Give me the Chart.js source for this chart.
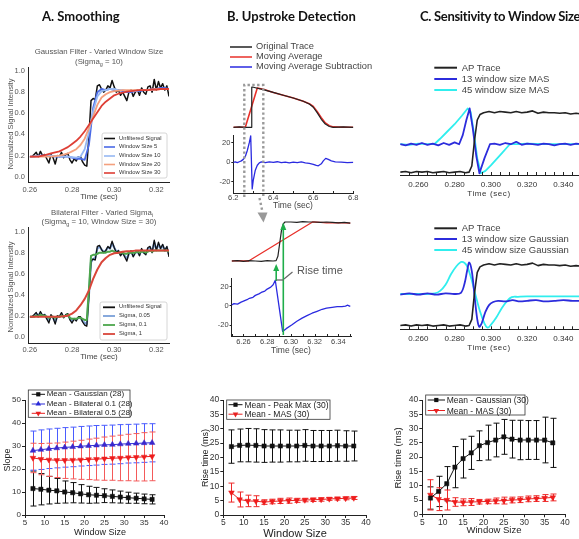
<!DOCTYPE html>
<html>
<head>
<meta charset="utf-8">
<script src="https://cdn.jsdelivr.net/npm/chart.js@4.4.1/dist/chart.umd.min.js"></script>
<style>
body { margin: 0; background: #fff; }
#fig { position: relative; width: 579px; height: 539px; overflow: hidden; background: #fff;
       font-family: 'Liberation Sans', Arial, sans-serif; color: #333; }
#fig canvas { position: absolute; }
#fig svg { position: absolute; left: 0; top: 0; }
.t { position: absolute; white-space: nowrap; line-height: 1; }
.h { position: absolute; font-family: Lato, 'Open Sans', sans-serif; font-weight: 700; font-size: 13px; color: #111; white-space: nowrap; }
.s { font-size: 70%; position: relative; top: 2px; }
</style>
</head>
<body>
<div id="fig"></div>
<script>
// ---- A. smoothing traces (time in sec, normalized intensity) ----
const tFine = [0.260,0.261,0.262,0.263,0.264,0.265,0.266,0.267,0.268,0.269,
  0.270,0.271,0.272,0.273,0.274,0.275,0.276,0.277,0.278,0.279,
  0.280,0.281,0.282,0.283,0.284,0.285,0.286,0.287,0.288,0.289,
  0.290,0.291,0.292,0.293,0.294,0.295,0.296,0.297,0.298,0.299,
  0.300,0.301,0.302,0.303,0.304,0.305,0.306,0.307,0.308,0.309,
  0.310,0.311,0.312,0.313,0.314,0.315,0.316,0.317,0.318,0.319,
  0.320,0.321,0.322,0.323,0.324,0.325,0.326];
const unfiltered = [0.19,0.19,0.21,0.23,0.19,0.24,0.20,0.21,0.17,0.13,
  0.21,0.18,0.12,0.20,0.19,0.23,0.18,0.21,0.22,0.16,
  0.13,0.17,0.15,0.19,0.19,0.14,0.11,0.10,0.38,0.72,
  0.74,0.73,0.86,0.87,0.83,0.80,0.82,0.86,0.84,0.91,
  0.85,0.80,0.82,0.77,0.80,0.76,0.72,0.80,0.82,0.76,
  0.80,0.82,0.77,0.84,0.80,0.78,0.85,0.86,0.80,0.92,
  0.82,0.90,0.84,0.88,0.82,0.86,0.76];
const sigma005 = [0.19,0.19,0.20,0.22,0.20,0.23,0.20,0.21,0.18,0.15,
  0.20,0.18,0.14,0.19,0.19,0.22,0.19,0.20,0.21,0.17,
  0.15,0.17,0.16,0.18,0.18,0.15,0.13,0.12,0.40,0.71,
  0.74,0.75,0.84,0.86,0.83,0.81,0.82,0.85,0.84,0.89,
  0.85,0.81,0.82,0.78,0.80,0.77,0.74,0.79,0.81,0.77,
  0.80,0.81,0.78,0.83,0.80,0.79,0.84,0.85,0.81,0.90,
  0.83,0.88,0.84,0.87,0.82,0.85,0.78];
const sigma01 = [0.19,0.19,0.19,0.20,0.19,0.21,0.20,0.20,0.19,0.18,
  0.19,0.19,0.18,0.19,0.19,0.20,0.19,0.20,0.21,0.18,
  0.17,0.17,0.17,0.18,0.18,0.17,0.16,0.16,0.45,0.77,
  0.78,0.78,0.79,0.80,0.80,0.80,0.80,0.81,0.81,0.82,
  0.81,0.80,0.80,0.80,0.80,0.79,0.79,0.80,0.80,0.80,
  0.80,0.81,0.80,0.81,0.81,0.80,0.81,0.82,0.81,0.82,
  0.82,0.82,0.82,0.82,0.82,0.82,0.81];
const tCoarse = [0.260,0.262,0.264,0.266,0.268,0.270,0.272,0.274,0.276,0.278,
  0.280,0.282,0.284,0.286,0.288,0.290,0.292,0.294,0.296,0.298,
  0.300,0.302,0.304,0.306,0.308,0.310,0.312,0.314,0.316,0.318,
  0.320,0.322,0.324,0.326];
const win5 = [0.19,0.19,0.20,0.20,0.20,0.20,0.19,0.19,0.19,0.19,
  0.18,0.17,0.17,0.16,0.30,0.65,0.80,0.83,0.82,0.83,
  0.82,0.82,0.81,0.80,0.80,0.81,0.81,0.82,0.82,0.83,
  0.83,0.84,0.84,0.83];
const win10 = [0.19,0.19,0.195,0.20,0.20,0.20,0.195,0.19,0.19,0.19,
  0.185,0.18,0.19,0.26,0.42,0.62,0.76,0.81,0.82,0.83,
  0.83,0.82,0.82,0.81,0.81,0.81,0.82,0.82,0.82,0.82,
  0.83,0.83,0.83,0.83];
const win20 = [0.19,0.19,0.19,0.19,0.19,0.19,0.195,0.20,0.21,0.22,
  0.24,0.26,0.30,0.36,0.46,0.57,0.68,0.75,0.78,0.80,
  0.81,0.815,0.82,0.82,0.82,0.82,0.82,0.82,0.82,0.825,
  0.825,0.83,0.83,0.83];
const win30 = [0.19,0.19,0.19,0.20,0.21,0.22,0.23,0.24,0.26,0.28,
  0.31,0.34,0.38,0.43,0.49,0.55,0.61,0.67,0.71,0.74,
  0.77,0.785,0.795,0.805,0.81,0.815,0.82,0.82,0.82,0.825,
  0.825,0.83,0.83,0.83];
const sigma1 = [0.19,0.19,0.19,0.19,0.19,0.19,0.19,0.19,0.195,0.20,
  0.22,0.25,0.30,0.36,0.44,0.55,0.64,0.71,0.75,0.78,
  0.795,0.80,0.81,0.815,0.815,0.82,0.82,0.82,0.82,0.82,
  0.82,0.82,0.82,0.82];
const aYTicks = [0.0,0.2,0.4,0.6,0.8,1.0];
const aXTicks = [0.26,0.28,0.30,0.32];

// ---- B. upstroke detection traces ----
const bOrigT = [6.200,6.230,6.260,6.290,6.2915,6.293,6.300,6.350,6.400,6.450,6.500,6.550,6.580,6.600,6.620,6.640,6.660,6.680,6.700,6.750,6.800];
const bOrigV = [0,0.01,0,0,0.6,1.0,1.0,0.94,0.87,0.80,0.73,0.65,0.58,0.50,0.36,0.20,0.08,0.02,0,0.01,0];
const bMovT = [6.200,6.260,6.320,6.350,6.400,6.450,6.500,6.550,6.580,6.600,6.620,6.640,6.660,6.680,6.700,6.750,6.800];
const bMovV = [0,0,0.98,0.95,0.87,0.80,0.73,0.65,0.59,0.52,0.39,0.24,0.11,0.04,0.01,0,0];
const bMasT = [6.200,6.210,6.220,6.230,6.240,6.250,6.260,6.270,6.280,6.287,
  6.2945,6.300,6.310,6.320,6.330,6.340,6.360,6.380,6.400,6.420,
  6.440,6.460,6.480,6.500,6.520,6.540,6.560,6.580,6.600,6.615,
  6.625,6.640,6.650,6.662,6.675,6.690,6.710,6.740,6.770,6.800];
const bMasV = [0,0.4,-0.3,0.6,1.5,3,6,12,20,27,
  -27,-18,-8,-3,-0.5,0.4,-0.3,0.5,0,0.6,
  -0.4,0.3,-0.5,0.2,-0.3,0.4,-0.6,-1,-2,-3.2,
  -3.5,-1.5,1.5,4,3,1.5,0.5,0.2,-0.2,0];
const bZoomOrigT = [6.250,6.255,6.260,6.265,6.270,6.275,6.280,6.285,6.2875,6.289,
  6.2905,6.292,6.2935,6.295,6.300,6.305,6.310,6.315,6.320,6.325,
  6.330,6.335,6.340,6.345,6.350];
const bZoomOrigV = [0,0.01,-0.01,0.01,0,-0.01,0.01,0,0.01,0.12,
  0.45,0.78,0.95,1.0,1.0,0.99,1.01,1.0,1.0,0.99,
  1.0,0.99,0.98,0.99,0.97];
const bZoomMovT = [6.250,6.255,6.260,6.2643,6.3182,6.325,6.330,6.340,6.350];
const bZoomMovV = [0,0.01,0,0,1.0,0.99,0.98,0.985,0.97];
const bZoomMasT = [6.250,6.252,6.255,6.258,6.260,6.263,6.265,6.268,6.270,6.273,
  6.275,6.278,6.280,6.283,6.285,6.2868,6.2930,6.2960,6.3009,6.3050,
  6.3094,6.3135,6.3178,6.3220,6.3263,6.3300,6.3347,6.3390,6.3430,6.3460,
  6.3475,6.3500];
const bZoomMasV = [1,2.5,2,4,5,6.5,8,9,11,12.5,
  14,15.5,17.5,19.5,22,26.7,-26.3,-23.5,-19.5,-15.8,
  -12.6,-10,-7.5,-5.5,-3.4,-2.2,-1.4,-0.6,-0.7,-0.2,
  0.8,-0.5];
const bXTicks = [6.2,6.4,6.6,6.8];
const bXMinor = [6.3,6.5,6.7];
const bZoomXTicks = [6.26,6.28,6.30,6.32,6.34];
const bZoomXMinor = [6.25,6.27,6.29,6.31,6.33,6.35];
const bYTicks = [-20,0,20];

// ---- C. sensitivity traces ----
const apT = [0.250,0.253,0.256,0.259,0.262,0.265,0.268,0.271,0.274,0.277,0.280,0.283,0.286,
  0.2880,0.2895,0.2910,0.2925,0.2940,0.2960,0.2990,
  0.302,0.305,0.308,0.311,0.314,0.317,0.320,0.323,0.326,0.329,0.332,0.335,0.338,0.341,0.344,0.347,0.350];
const apV = [0.02,0.03,0.01,0.03,0.02,0.03,0.01,0.02,0.03,0.01,0.02,0.03,0.01,
  0.02,0.12,0.55,0.88,0.97,1.00,1.02,
  1.00,1.02,1.01,1.00,1.02,1.00,1.01,1.03,0.99,1.01,1.00,1.00,0.99,1.00,0.98,0.99,0.98];
const mas13T = [0.250,0.253,0.256,0.259,0.262,0.265,0.268,0.271,0.274,0.277,0.280,
  0.2825,0.2845,0.2865,0.2883,0.2900,0.2920,0.2937,0.2965,0.2995,
  0.302,0.305,0.308,0.311,0.314,0.317,0.320,0.323,0.326,0.329,0.332,0.335,0.338,0.341,0.344,0.347,0.350];
const mas13V = [0.48,0.46,0.49,0.47,0.50,0.47,0.49,0.46,0.50,0.47,0.51,
  0.48,0.63,0.88,1.07,0.75,0.28,0.0,0.25,0.48,
  0.49,0.47,0.50,0.48,0.52,0.47,0.49,0.48,0.47,0.49,0.48,0.46,0.48,0.49,0.47,0.49,0.48];
const mas45T = [0.250,0.255,0.260,0.265,0.2688,0.2720,0.2760,0.2800,0.2840,0.2872,
  0.2888,0.2905,0.2925,0.2945,0.2970,0.3000,0.3030,0.3060,0.3090,0.3105,
  0.3150,0.3200,0.3300,0.3400,0.3500];
const mas45V = [0.48,0.47,0.49,0.48,0.48,0.57,0.69,0.81,0.95,1.07,
  1.02,0.70,0.25,0.0,0.04,0.13,0.23,0.33,0.43,0.48,
  0.48,0.49,0.48,0.48,0.48];
const gau13T = [0.250,0.255,0.260,0.265,0.270,0.275,0.280,0.2835,0.2855,0.2870,
  0.2881,0.2895,0.2910,0.2925,0.2936,0.2950,0.2970,0.2990,0.3013,0.3040,
  0.308,0.312,0.316,0.320,0.325,0.330,0.335,0.340,0.345,0.350];
const gau13V = [0.52,0.54,0.52,0.54,0.52,0.54,0.53,0.55,0.70,0.92,
  1.04,0.90,0.50,0.12,0.0,0.06,0.24,0.35,0.40,0.42,
  0.41,0.43,0.41,0.42,0.43,0.41,0.42,0.43,0.42,0.42];
const gau45T = [0.250,0.255,0.260,0.265,0.2692,0.2720,0.2750,0.2780,0.2810,0.2839,
  0.2865,0.2890,0.2915,0.2940,0.2965,0.2982,0.3000,0.3030,0.3060,0.3090,
  0.3115,0.3150,0.3200,0.3300,0.3400,0.3500];
const gau45V = [0.53,0.53,0.53,0.53,0.54,0.58,0.68,0.85,0.98,1.05,
  1.00,0.80,0.52,0.25,0.05,-0.015,0.03,0.15,0.30,0.42,
  0.48,0.485,0.49,0.49,0.49,0.49];
const cXTicks = [0.26,0.28,0.30,0.32,0.34];
const cXMinor = [0.255,0.260,0.265,0.270,0.275,0.280,0.285,0.290,0.295,0.300,
  0.305,0.310,0.315,0.320,0.325,0.330,0.335,0.340,0.345];

// ---- summary plots vs window size ----
const windowSizes = [7,9,11,13,15,17,19,21,23,25,27,29,31,33,35,37];
const slopeGauss = [11.5,11.2,10.8,10.5,10.0,9.7,9.2,8.8,8.6,8.4,8.1,7.8,7.5,7.3,7.0,6.8];
const slopeGaussErr = [7.6,6.8,6.0,5.4,4.8,4.4,4.0,3.7,3.4,3.0,2.8,2.6,2.4,2.2,2.1,2.0];
const slopeBil01 = [28.0,28.4,28.8,29.1,29.4,29.6,29.9,30.1,30.3,30.5,30.6,30.8,31.0,31.1,31.3,31.4];
const slopeBil01Err = [8.5,8.6,8.6,8.6,8.6,8.6,8.6,8.6,8.6,8.5,8.5,8.5,8.4,8.4,8.4,8.3];
const slopeBil05 = [24.8,24.3,24.0,23.8,23.8,23.9,24.0,24.2,24.3,24.5,24.7,24.8,25.0,25.1,25.3,25.5];
const slopeBil05Err = [6.4,6.8,7.2,7.5,7.9,8.2,8.5,8.8,9.1,9.4,9.6,9.9,10.1,10.3,10.5,10.6];
const risePeakMax = [23.8,24.2,24.3,24.2,24.0,24.0,24.0,24.0,24.0,24.2,24.0,24.0,24.0,24.1,24.0,24.0];
const risePeakMaxErr = [5.8,5.7,5.8,5.8,5.7,5.6,5.6,5.5,5.5,5.5,5.4,5.4,5.4,5.4,5.3,5.2];
const riseMasB = [7.8,5.4,4.9,4.8,4.5,4.7,4.9,5.0,5.1,5.2,5.3,5.4,5.6,5.7,5.8,5.9];
const riseMasBErr = [3.3,2.6,2.0,1.9,0.8,0.8,0.9,0.9,0.7,0.6,0.6,0.6,0.5,0.5,0.5,0.5];
const riseGaussC = [5.7,8.0,10.7,16.5,19.5,21.5,24.0,25.1,26.0,27.1,26.3,26.0,26.0,26.0,26.0,25.0];
const riseGaussCErr = [3.9,5.3,6.0,7.2,6.8,5.8,5.2,6.1,5.9,6.1,6.6,6.9,6.8,6.8,8.0,8.6];
const riseMasC = [6.8,5.3,5.0,4.3,4.2,4.3,4.4,4.5,4.7,4.8,5.0,5.1,5.4,5.5,5.7,5.9];
const riseMasCErr = [5.3,4.0,3.5,1.5,1.2,1.2,0.8,0.8,1.0,1.2,1.0,1.0,1.0,1.0,1.2,1.2];
const wsTicks = [5,10,15,20,25,30,35,40];
const slopeTicks = [0,10,20,30,40,50];
const riseTicks = [0,5,10,15,20,25,30,35,40];

Chart.defaults.font.family = "'Liberation Sans', Arial, sans-serif";

const fig = document.getElementById('fig');
const xy = (ts, vs) => ts.map((t, i) => ({ x: t, y: vs[i] }));

// error bars with caps, drawn under the markers
Chart.register({
  id: 'errorBars',
  beforeDatasetsDraw(chart) {
    const { ctx, scales: { x, y } } = chart;
    chart.data.datasets.forEach(ds => {
      if (!ds.errs) return;
      ctx.save();
      ctx.strokeStyle = ds.errColor;
      ctx.lineWidth = 1;
      ds.data.forEach((p, i) => {
        const px = Math.round(x.getPixelForValue(p.x)) + 0.5;
        const hi = y.getPixelForValue(p.y + ds.errs[i]);
        const lo = y.getPixelForValue(p.y - ds.errs[i]);
        ctx.beginPath();
        ctx.moveTo(px, hi); ctx.lineTo(px, lo);
        ctx.moveTo(px - 3, hi); ctx.lineTo(px + 3, hi);
        ctx.moveTo(px - 3, lo); ctx.lineTo(px + 3, lo);
        ctx.stroke();
      });
      ctx.restore();
    });
  }
});

// small tick marks pointing up into the plot
Chart.register({
  id: 'innerTicks',
  afterDraw(chart, args, opts) {
    if (!opts || !opts.values) return;
    const { ctx, chartArea, scales: { x } } = chart;
    ctx.save();
    ctx.strokeStyle = '#222';
    ctx.lineWidth = 1;
    opts.values.forEach(v => {
      const px = Math.round(x.getPixelForValue(v)) + 0.5;
      ctx.beginPath();
      ctx.moveTo(px, chartArea.bottom);
      ctx.lineTo(px, chartArea.bottom - opts.len);
      ctx.stroke();
    });
    ctx.restore();
  }
});

function axis(min, max, ticks, o = {}) {
  const list = ticks || [];
  return {
    type: 'linear', min, max,
    afterBuildTicks: s => { s.ticks = list.map(v => ({ value: v })); },
    ticks: {
      display: list.length > 0,
      autoSkip: false, maxRotation: 0, minRotation: 0,
      padding: o.pad ?? 2,
      color: o.color || '#333',
      font: { size: o.size || 8 },
      callback: v => o.fmt ? o.fmt(v) : String(v)
    },
    grid: { display: !!o.tick, drawOnChartArea: false, drawTicks: !!o.tick, tickLength: o.tick || 0, color: '#222' },
    border: { display: !!o.line, color: '#222', width: 1 }
  };
}

// area = [left, top, right, bottom] of the plot, in page pixels
function addChart(L, T, W, H, area, datasets, xs, ys, plugins) {
  const c = document.createElement('canvas');
  c.width = W; c.height = H;
  c.style.left = L + 'px'; c.style.top = T + 'px';
  c.style.width = W + 'px'; c.style.height = H + 'px';
  fig.appendChild(c);
  xs.afterFit = s => { s.height = T + H - area[3]; };
  ys.afterFit = s => { s.width = area[0] - L; };
  return new Chart(c, {
    type: 'line',
    data: { datasets },
    options: {
      responsive: false, animation: false, events: [],
      layout: { padding: { left: 0, top: area[1] - T, right: L + W - area[2], bottom: 0 } },
      plugins: Object.assign({ legend: { display: false }, tooltip: { enabled: false } }, plugins || {}),
      scales: { x: xs, y: ys }
    }
  });
}

function trace(ts, vs, color, width, extra) {
  return Object.assign({ data: xy(ts, vs), borderColor: color, borderWidth: width, pointRadius: 0,
    fill: false, tension: 0, borderJoinStyle: 'round' }, extra || {});
}

function meanSeries(vals, errs, color, fill, style, rot, errColor) {
  return { data: xy(windowSizes, vals), errs, errColor, borderColor: color, borderWidth: 1,
    pointStyle: style, pointRotation: rot, pointRadius: style === 'rect' ? 3 : 3.3,
    pointBackgroundColor: fill, pointBorderColor: fill, pointBorderWidth: 0.5, fill: false, tension: 0 };
}

const aFmtY = v => v.toFixed(1), aFmtX = v => v.toFixed(2);

// A1 - Gaussian filter
addChart(0, 55, 178, 140, [28, 67, 169, 182], [
  trace(tCoarse, win30, '#de3e35', 1.8),
  trace(tCoarse, win20, '#f4a07e', 1.8),
  trace(tCoarse, win10, '#97b8f3', 1.8),
  trace(tCoarse, win5, '#4a6ae6', 1.8),
  trace(tFine, unfiltered, '#111', 1.5)
], axis(0.2591, 0.326, aXTicks, { fmt: aFmtX, line: true, pad: 3, size: 7.5, color: '#555' }),
   axis(-0.05, 1.038, aYTicks, { fmt: aFmtY, line: true, pad: 3, size: 7.5, color: '#555' }));

// A2 - bilateral filter
addChart(0, 215, 178, 140, [28, 227, 169, 343], [
  trace(tCoarse, sigma1, '#d9463a', 2),
  trace(tFine, sigma01, '#4ca64c', 2),
  trace(tFine, unfiltered, '#111', 1.3),
  trace(tFine, sigma005, '#7aa0d8', 2.2)
], axis(0.2591, 0.326, aXTicks, { fmt: aFmtX, line: true, pad: 2, size: 7.5, color: '#555' }),
   axis(-0.06, 1.045, aYTicks, { fmt: aFmtY, line: true, pad: 3, size: 7.5, color: '#555' }));

// A3 - slope vs window size
addChart(0, 390, 175, 140, [25, 400, 164, 515], [
  meanSeries(slopeGauss, slopeGaussErr, '#111', '#111', 'rect', 0, '#111'),
  meanSeries(slopeBil01, slopeBil01Err, '#2a2ad8', '#3a28cc', 'triangle', 0, '#4a5cff'),
  meanSeries(slopeBil05, slopeBil05Err, '#e82020', '#ee1c1c', 'triangle', 180, '#f45a5a')
], axis(5, 40, wsTicks, { line: true, tick: 3, pad: 0, size: 8, color: '#333' }),
   axis(0, 50, slopeTicks, { line: true, tick: 3, pad: 1, size: 8, color: '#333' }));

// B1 - full trace
addChart(230, 75, 130, 60, [233.3, 80, 353.3, 130], [
  trace(bOrigT, bOrigV, '#222', 1.2),
  trace(bMovT, bMovV, '#e8302a', 1.6)
], axis(6.2, 6.8, null), axis(-0.0675, 1.18, null));

addChart(200, 128, 165, 75, [233.3, 135, 353.3, 193], [
  trace(bMasT, bMasV, '#2a2ae0', 1.3)
], axis(6.2, 6.8, bXTicks, { fmt: v => v.toFixed(1), line: true, pad: 0, size: 7.5, color: '#444' }),
   axis(-31.2, 27.8, bYTicks, { line: true, tick: 2, pad: 1, size: 7.5, color: '#444' }),
   { innerTicks: { values: bXTicks.concat(bXMinor), len: 2 } });

// B2 - zoomed upstroke
addChart(200, 210, 160, 60, [231.6, 215, 351.7, 266], [
  trace(bZoomOrigT, bZoomOrigV, '#222', 1.2),
  trace(bZoomMovT, bZoomMovV, '#e8302a', 1.3)
], axis(6.25, 6.3512, null), axis(-0.128, 1.18, null));

addChart(200, 270, 160, 76, [231.6, 278, 351.7, 336], [
  trace(bZoomMasT, bZoomMasV, '#2a2ae0', 1.3)
], axis(6.25, 6.3512, bZoomXTicks, { fmt: v => v.toFixed(2), line: true, pad: 1, size: 7.5, color: '#444' }),
   axis(-31.1, 29.0, bYTicks, { line: true, tick: 2, pad: 1, size: 7.5, color: '#444' }),
   { innerTicks: { values: bZoomXTicks.concat(bZoomXMinor), len: 2 } });

// B3 - rise time vs window size
addChart(195, 390, 180, 140, [223.3, 400, 366, 515], [
  meanSeries(risePeakMax, risePeakMaxErr, '#111', '#111', 'rect', 0, '#111'),
  meanSeries(riseMasB, riseMasBErr, '#e82020', '#ee1c1c', 'triangle', 180, '#ee2a2a')
], axis(5, 40, wsTicks, { line: true, tick: 3, pad: 0, size: 8.5, color: '#333' }),
   axis(0, 40, riseTicks, { line: true, tick: 3, pad: 1, size: 8.5, color: '#333' }));

// C1 - MAS window sizes
addChart(385, 90, 205, 100, [400.2, 100, 581.5, 175], [
  trace(apT, apV, '#222', 1.6),
  trace(mas13T, mas13V, '#2c2cdc', 1.8),
  trace(mas45T, mas45V, '#30eeee', 1.8)
], axis(0.25, 0.35, cXTicks, { fmt: v => v.toFixed(3), line: true, pad: 5, size: 8, color: '#333' }),
   axis(-0.028, 1.21, null),
   { innerTicks: { values: cXMinor, len: 3 } });

// C2 - Gaussian window sizes
addChart(385, 245, 205, 100, [400.2, 255, 581.5, 329.3], [
  trace(apT, apV, '#222', 1.6),
  trace(gau13T, gau13V, '#2c2cdc', 1.8, { tension: 0.35 }),
  trace(gau45T, gau45V, '#30eeee', 1.8, { tension: 0.35 })
], axis(0.25, 0.35, cXTicks, { fmt: v => v.toFixed(3), line: true, pad: 5, size: 8, color: '#333' }),
   axis(-0.042, 1.162, null),
   { innerTicks: { values: cXMinor, len: 3 } });

// C3 - rise time vs window size
addChart(395, 390, 180, 140, [422.3, 400, 565, 514.3], [
  meanSeries(riseGaussC, riseGaussCErr, '#111', '#111', 'rect', 0, '#111'),
  meanSeries(riseMasC, riseMasCErr, '#e82020', '#ee1c1c', 'triangle', 180, '#ee2a2a')
], axis(5, 40, wsTicks, { line: true, tick: 3, pad: 0, size: 8.5, color: '#333' }),
   axis(0, 40, riseTicks, { line: true, tick: 3, pad: 1, size: 8.5, color: '#333' }));

// ---- legends and annotations ----
let svg = '';
const line = (x1, y1, x2, y2, c, w, dash) =>
  `<line x1="${x1}" y1="${y1}" x2="${x2}" y2="${y2}" stroke="${c}" stroke-width="${w}"${dash ? ` stroke-dasharray="${dash}"` : ''}/>`;
const box = (x, y, w, h, stroke) =>
  `<rect x="${x}" y="${y}" width="${w}" height="${h}" fill="#fff" stroke="${stroke}" stroke-width="0.8" rx="${stroke === '#333' ? 0 : 2}"/>`;
function marker(style, cx, cy, c) {
  if (style === 'rect') return `<rect x="${cx - 2.1}" y="${cy - 2.1}" width="4.2" height="4.2" fill="${c}"/>`;
  const r = 3.2, dx = r * 0.87, s = style === 'up' ? 1 : -1;
  return `<polygon points="${cx},${cy - s * r} ${cx - dx},${cy + s * r / 2} ${cx + dx},${cy + s * r / 2}" fill="${c}"/>`;
}
const texts = [];
const lab = (x, y, s, size, color, o) => texts.push(Object.assign({ x, y, s, size, color }, o || {}));

// A1 legend
svg += box(102, 133, 65, 45, '#ccc');
[['Unfiltered Signal', '#111'], ['Window Size 5', '#4a6ae6'], ['Window Size 10', '#97b8f3'],
 ['Window Size 20', '#f4a07e'], ['Window Size 30', '#de3e35']].forEach((e, i) => {
  const y = [138.5, 147, 156, 164.5, 173][i];
  svg += line(104, y, 115, y, e[1], 1.6);
  lab(119, y, e[0], 5.8, '#333', { left: true });
});
// A2 legend
svg += box(100, 302, 67, 38, '#ccc');
[['Unfiltered Signal', '#111'], ['Sigma, 0.05', '#7aa0d8'], ['Sigma, 0.1', '#4ca64c'], ['Sigma, 1', '#d9463a']].forEach((e, i) => {
  const y = [307.3, 316, 325, 334][i];
  svg += line(103, y, 115, y, e[1], 1.8);
  lab(119, y, e[0], 5.8, '#333', { left: true });
});
// A3 legend
svg += box(28.3, 390, 101.7, 27.3, '#333');
[['Mean - Gaussian (28)', '#111', 'rect'], ['Mean - Bilateral 0.1 (28)', '#2a2ad8', 'up'],
 ['Mean - Bilateral 0.5 (28)', '#e82020', 'down']].forEach((e, i) => {
  const y = [394.3, 404, 413.3][i];
  svg += line(31.7, y, 45, y, e[1], 1) + marker(e[2], 38.3, y, e[1]);
  lab(46.7, y, e[0], 8, '#222', { left: true });
});
// B1 legend
[['Original Trace', '#222'], ['Moving Average', '#e8302a'], ['Moving Average Subtraction', '#2a2ae0']].forEach((e, i) => {
  const y = [47, 57, 67][i];
  svg += line(230, y, 252, y, e[1], 1.5);
  lab(256, y, e[0], 9.3, '#444', { left: true });
});
// B3 legend
svg += box(226.7, 400, 103.3, 19.3, '#333');
[['Mean - Peak Max (30)', '#111', 'rect'], ['Mean - MAS (30)', '#e82020', 'down']].forEach((e, i) => {
  const y = [404.7, 414.2][i];
  svg += line(228.5, y, 242.5, y, e[1], 1) + marker(e[2], 235.5, y, e[1]);
  lab(244.5, y, e[0], 8.5, '#222', { left: true });
});
// C1 / C2 legends
const cLegends = [
  [[['AP Trace', '#222'], ['13 window size MAS', '#2c2cdc'], ['45 window size MAS', '#30eeee']], [67.7, 79, 90]],
  [[['AP Trace', '#222'], ['13 window size Gaussian', '#2c2cdc'], ['45 window size Gaussian', '#30eeee']], [228.3, 239, 250]]
];
cLegends.forEach(([rows, ys]) => rows.forEach((e, i) => {
  svg += line(434.3, ys[i], 457, ys[i], e[1], 2);
  lab(461.7, ys[i], e[0], 9.5, '#444', { left: true });
}));
// C3 legend
svg += box(425.7, 395, 99.3, 20, '#333');
[['Mean - Gaussian (30)', '#111', 'rect'], ['Mean - MAS (30)', '#e82020', 'down']].forEach((e, i) => {
  const y = [400, 410.5][i];
  svg += line(427.7, y, 445, y, e[1], 1) + marker(e[2], 436.3, y, e[1]);
  lab(446.7, y, e[0], 8.5, '#222', { left: true });
});

// zoom window of panel B and its arrow
svg += `<path d="M244.3,197 V85 H263.3 V196" fill="none" stroke="#9a9a9a" stroke-width="2.4" stroke-dasharray="2.4 2.4"/>`;
svg += line(259.5, 198, 262.5, 212, '#9a9a9a', 2.4, '2.4 2.4');
svg += `<polygon points="257.5,212.5 267.5,212.5 263.5,222.5" fill="#999"/>`;
// rise time arrows
svg += line(276.2, 281, 276.2, 270, '#1fae4b', 1.6) + `<polygon points="273.2,271 279.2,271 276.2,264" fill="#1fae4b"/>`;
svg += line(283.3, 335, 283.3, 229, '#1fae4b', 1.6) + `<polygon points="280.3,230 286.3,230 283.3,222.5" fill="#1fae4b"/>`;
svg += line(276.5, 280, 283.5, 280, '#666', 1.3) + line(284, 279, 292.5, 272, '#666', 1.2);

fig.insertAdjacentHTML('beforeend', `<svg width="579" height="539" viewBox="0 0 579 539">${svg}</svg>`);

// titles and axis titles
lab(99, 52, 'Gaussian Filter - Varied Window Size', 7.8, '#555');
lab(99, 61.5, '(Sigma<span class="s">g</span> = 10)', 7.8, '#555');
lab(102, 213, 'Bilateral Filter - Varied Sigma<span class="s">i</span>', 7.8, '#555');
lab(99, 221.5, '(Sigma<span class="s">g</span> = 10, Window Size = 30)', 7.8, '#555');
lab(11, 124, 'Normalized Signal Intensity', 7.5, '#555', { rot: true });
lab(11, 287, 'Normalized Signal Intensity', 7.5, '#555', { rot: true });
lab(99, 197, 'Time (sec)', 8, '#444');
lab(99, 357, 'Time (sec)', 8, '#444');
lab(7, 460, 'Slope', 9, '#222', { rot: true });
lab(100, 532, 'Window Size', 9, '#222');
lab(293, 205, 'Time (sec)', 8.5, '#444');
lab(291, 350, 'Time (sec)', 8.5, '#444');
lab(297, 270, 'Rise time', 11, '#555', { left: true });
lab(205, 458, 'Rise time (ms)', 9, '#222', { rot: true });
lab(295, 533, 'Window Size', 11, '#222');
lab(489, 194.3, 'Time (sec)', 8, '#333', { ls: true });
lab(489, 348.3, 'Time (sec)', 8, '#333', { ls: true });
lab(398.3, 457.5, 'Rise time (ms)', 9.5, '#222', { rot: true });
lab(494, 530, 'Window Size', 9.5, '#222');

texts.forEach(t => {
  const d = document.createElement('div');
  d.className = 't';
  d.innerHTML = t.s;
  d.style.left = t.x + 'px';
  d.style.top = t.y + 'px';
  d.style.fontSize = t.size + 'px';
  d.style.color = t.color;
  if (t.ls) d.style.letterSpacing = '0.6px';
  d.style.transform = (t.left ? 'translate(0,-50%)' : 'translate(-50%,-50%)') + (t.rot ? ' rotate(-90deg)' : '');
  fig.appendChild(d);
});

[['A. Smoothing', 42, 16, 0], ['B. Upstroke Detection', 227, 16, 0], ['C. Sensitivity to Window Size', 420, 16, -0.3]].forEach(([s, x, y, ls]) => {
  const d = document.createElement('div');
  d.className = 'h';
  d.textContent = s;
  d.style.left = x + 'px';
  d.style.top = y + 'px';
  d.style.letterSpacing = ls + 'px';
  d.style.transform = 'translate(0,-50%)';
  fig.appendChild(d);
});
</script>
</body>
</html>
